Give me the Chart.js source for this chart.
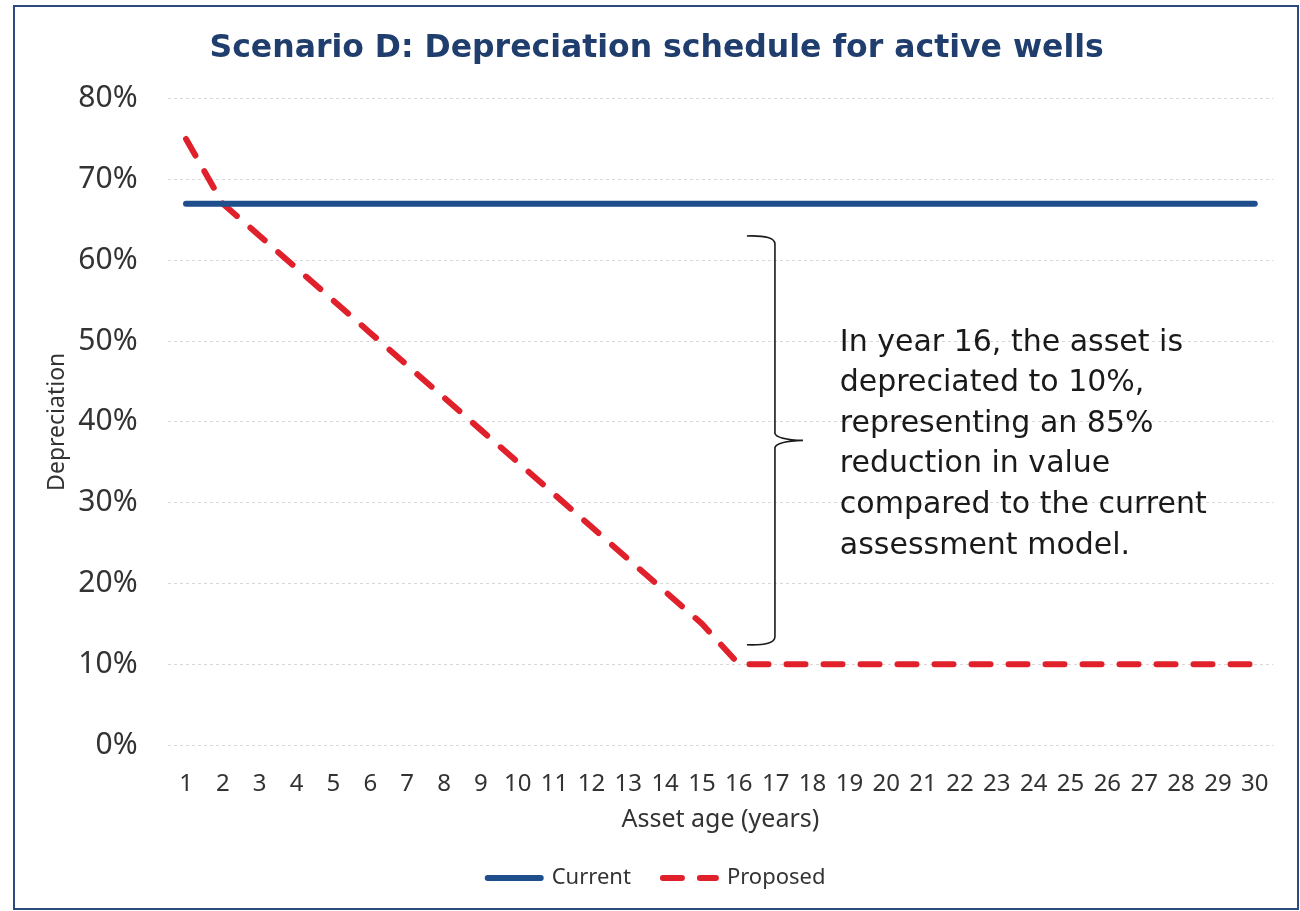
<!DOCTYPE html>
<html>
<head>
<meta charset="utf-8">
<script src="https://cdn.jsdelivr.net/npm/chart.js@4.4.1/dist/chart.umd.min.js"></script>
<style>
  html, body { margin: 0; padding: 0; background: #ffffff; }
  #wrap { position: relative; width: 1300px; height: 911px; }
</style>
</head>
<body>
<div id="wrap"><canvas id="chart"></canvas></div>
<script>
// ---- data ----
const years = ['1','2','3','4','5','6','7','8','9','10','11','12','13','14','15','16','17','18','19','20','21','22','23','24','25','26','27','28','29','30'];
const currentValues = [67,67,67,67,67,67,67,67,67,67,67,67,67,67,67,67,67,67,67,67,67,67,67,67,67,67,67,67,67,67];
const proposedValues = [75,67,63,59,55,51,47,43,39,35,31,27,23,19,15,10,10,10,10,10,10,10,10,10,10,10,10,10,10,10];
const yTickValues = [0,10,20,30,40,50,60,70,80];
const seriesNames = ['Current', 'Proposed'];
const noteLines = ['In year 16, the asset is', 'depreciated to 10%,', 'representing an 85%', 'reduction in value', 'compared to the current', 'assessment model.'];

// ---- annotation placement (in axis units) ----
const note = {
  braceX: 15.98, braceHookX: 15.22, braceTipX: 16.74,
  braceTop: 63.0, braceMid: 37.7, braceBottom: 12.4,
  textX: 17.74, textY: 48.8, lineGap: 40.6
};

const framePlugin = {
  id: 'frame',
  beforeDraw(chart) {
    const ctx = chart.ctx;
    ctx.save();
    ctx.fillStyle = '#ffffff';
    ctx.fillRect(0, 0, chart.width, chart.height);
    ctx.strokeStyle = '#2c4a80';
    ctx.lineWidth = 2;
    ctx.strokeRect(14, 6, 1284, 903);
    ctx.restore();
  }
};

const notePlugin = {
  id: 'note',
  afterDatasetsDraw(chart) {
    const {ctx, scales: {x, y}} = chart;
    const xv = x.getPixelForValue(note.braceX);
    const xl = x.getPixelForValue(note.braceHookX);
    const xt = x.getPixelForValue(note.braceTipX);
    const yt = y.getPixelForValue(note.braceTop);
    const ym = y.getPixelForValue(note.braceMid);
    const yb = y.getPixelForValue(note.braceBottom);
    ctx.save();
    ctx.strokeStyle = '#1a1a1a';
    ctx.lineWidth = 1.6;
    ctx.beginPath();
    ctx.moveTo(xl, yt);
    ctx.quadraticCurveTo(xv, yt - 1, xv, yt + 8);
    ctx.lineTo(xv, ym - 7);
    ctx.quadraticCurveTo(xv + 2, ym - 1, xt, ym);
    ctx.moveTo(xt, ym);
    ctx.quadraticCurveTo(xv + 2, ym + 1, xv, ym + 7);
    ctx.lineTo(xv, yb - 8);
    ctx.quadraticCurveTo(xv, yb + 1, xl, yb);
    ctx.stroke();

    ctx.fillStyle = '#1a1a1a';
    ctx.font = '30px "DejaVu Sans"';
    ctx.textAlign = 'left';
    ctx.textBaseline = 'alphabetic';
    const tx = x.getPixelForValue(note.textX);
    const ty = y.getPixelForValue(note.textY);
    noteLines.forEach((line, i) => ctx.fillText(line, tx, ty + i * note.lineGap));
    ctx.restore();
  }
};

new Chart(document.getElementById('chart'), {
  type: 'line',
  data: {
    labels: years,
    datasets: [
      {
        label: seriesNames[0],
        data: currentValues,
        borderColor: '#1f4e8c',
        backgroundColor: '#1f4e8c',
        borderWidth: 6,
        borderCapStyle: 'round',
        pointRadius: 0,
        tension: 0
      },
      {
        label: seriesNames[1],
        data: proposedValues,
        borderColor: '#e0202a',
        backgroundColor: '#e0202a',
        borderWidth: 6,
        borderDash: [19, 18],
        borderCapStyle: 'round',
        borderJoinStyle: 'round',
        pointRadius: 0,
        tension: 0
      }
    ]
  },
  options: {
    responsive: true,
    maintainAspectRatio: false,
    animation: false,
    layout: { padding: { left: 40, right: 26.8, top: 0, bottom: 12 } },
    plugins: {
      title: {
        display: true,
        text: 'Scenario D: Depreciation schedule for active wells',
        color: '#1f3d6d',
        font: { family: '"DejaVu Sans"', size: 31.5, weight: 'bold' },
        padding: { top: 29.5, bottom: 31.3 }
      },
      legend: {
        position: 'bottom',
        labels: {
          usePointStyle: true,
          pointStyle: 'line',
          pointStyleWidth: 53,
          padding: 32,
          color: '#333333',
          font: { family: '"Noto Sans"', size: 22 },
          generateLabels(chart) {
            const items = Chart.defaults.plugins.legend.labels.generateLabels(chart);
            items.forEach((item) => {
              const ds = chart.data.datasets[item.datasetIndex];
              item.lineDash = ds.borderDash || [];
              item.lineWidth = ds.borderWidth;
              item.lineCap = 'round';
              item.strokeStyle = ds.borderColor;
              item.pointStyle = 'line';
            });
            return items;
          }
        }
      },
      tooltip: { enabled: false }
    },
    scales: {
      x: {
        offset: true,
        grid: { display: false },
        border: { display: false },
        ticks: {
          color: '#333333',
          padding: 16.5,
          maxRotation: 0,
          autoSkip: false,
          font: { family: '"Noto Sans"', size: 24 }
        },
        title: {
          display: true,
          text: 'Asset age (years)',
          color: '#333333',
          font: { family: '"Noto Sans"', size: 25 },
          padding: { top: 0, bottom: 0 }
        },
        afterFit(scale) { scale.height = 90; }
      },
      y: {
        min: 0,
        max: 80,
        afterBuildTicks(scale) { scale.ticks = yTickValues.map(v => ({ value: v })); },
        grid: { color: '#d8d8d8', lineWidth: 1, drawTicks: false },
        border: { display: false, dash: [3, 3] },
        ticks: {
          color: '#333333',
          padding: 30,
          font: { family: '"Noto Sans"', size: 30 },
          callback: (v) => v + '%'
        },
        title: {
          display: true,
          text: 'Depreciation',
          color: '#333333',
          font: { family: '"Noto Sans"', size: 23 },
          padding: { top: 3.2, bottom: 0 }
        },
        afterFit(scale) { scale.width = 127.6; }
      }
    }
  },
  plugins: [framePlugin, notePlugin]
});
</script>
</body>
</html>
